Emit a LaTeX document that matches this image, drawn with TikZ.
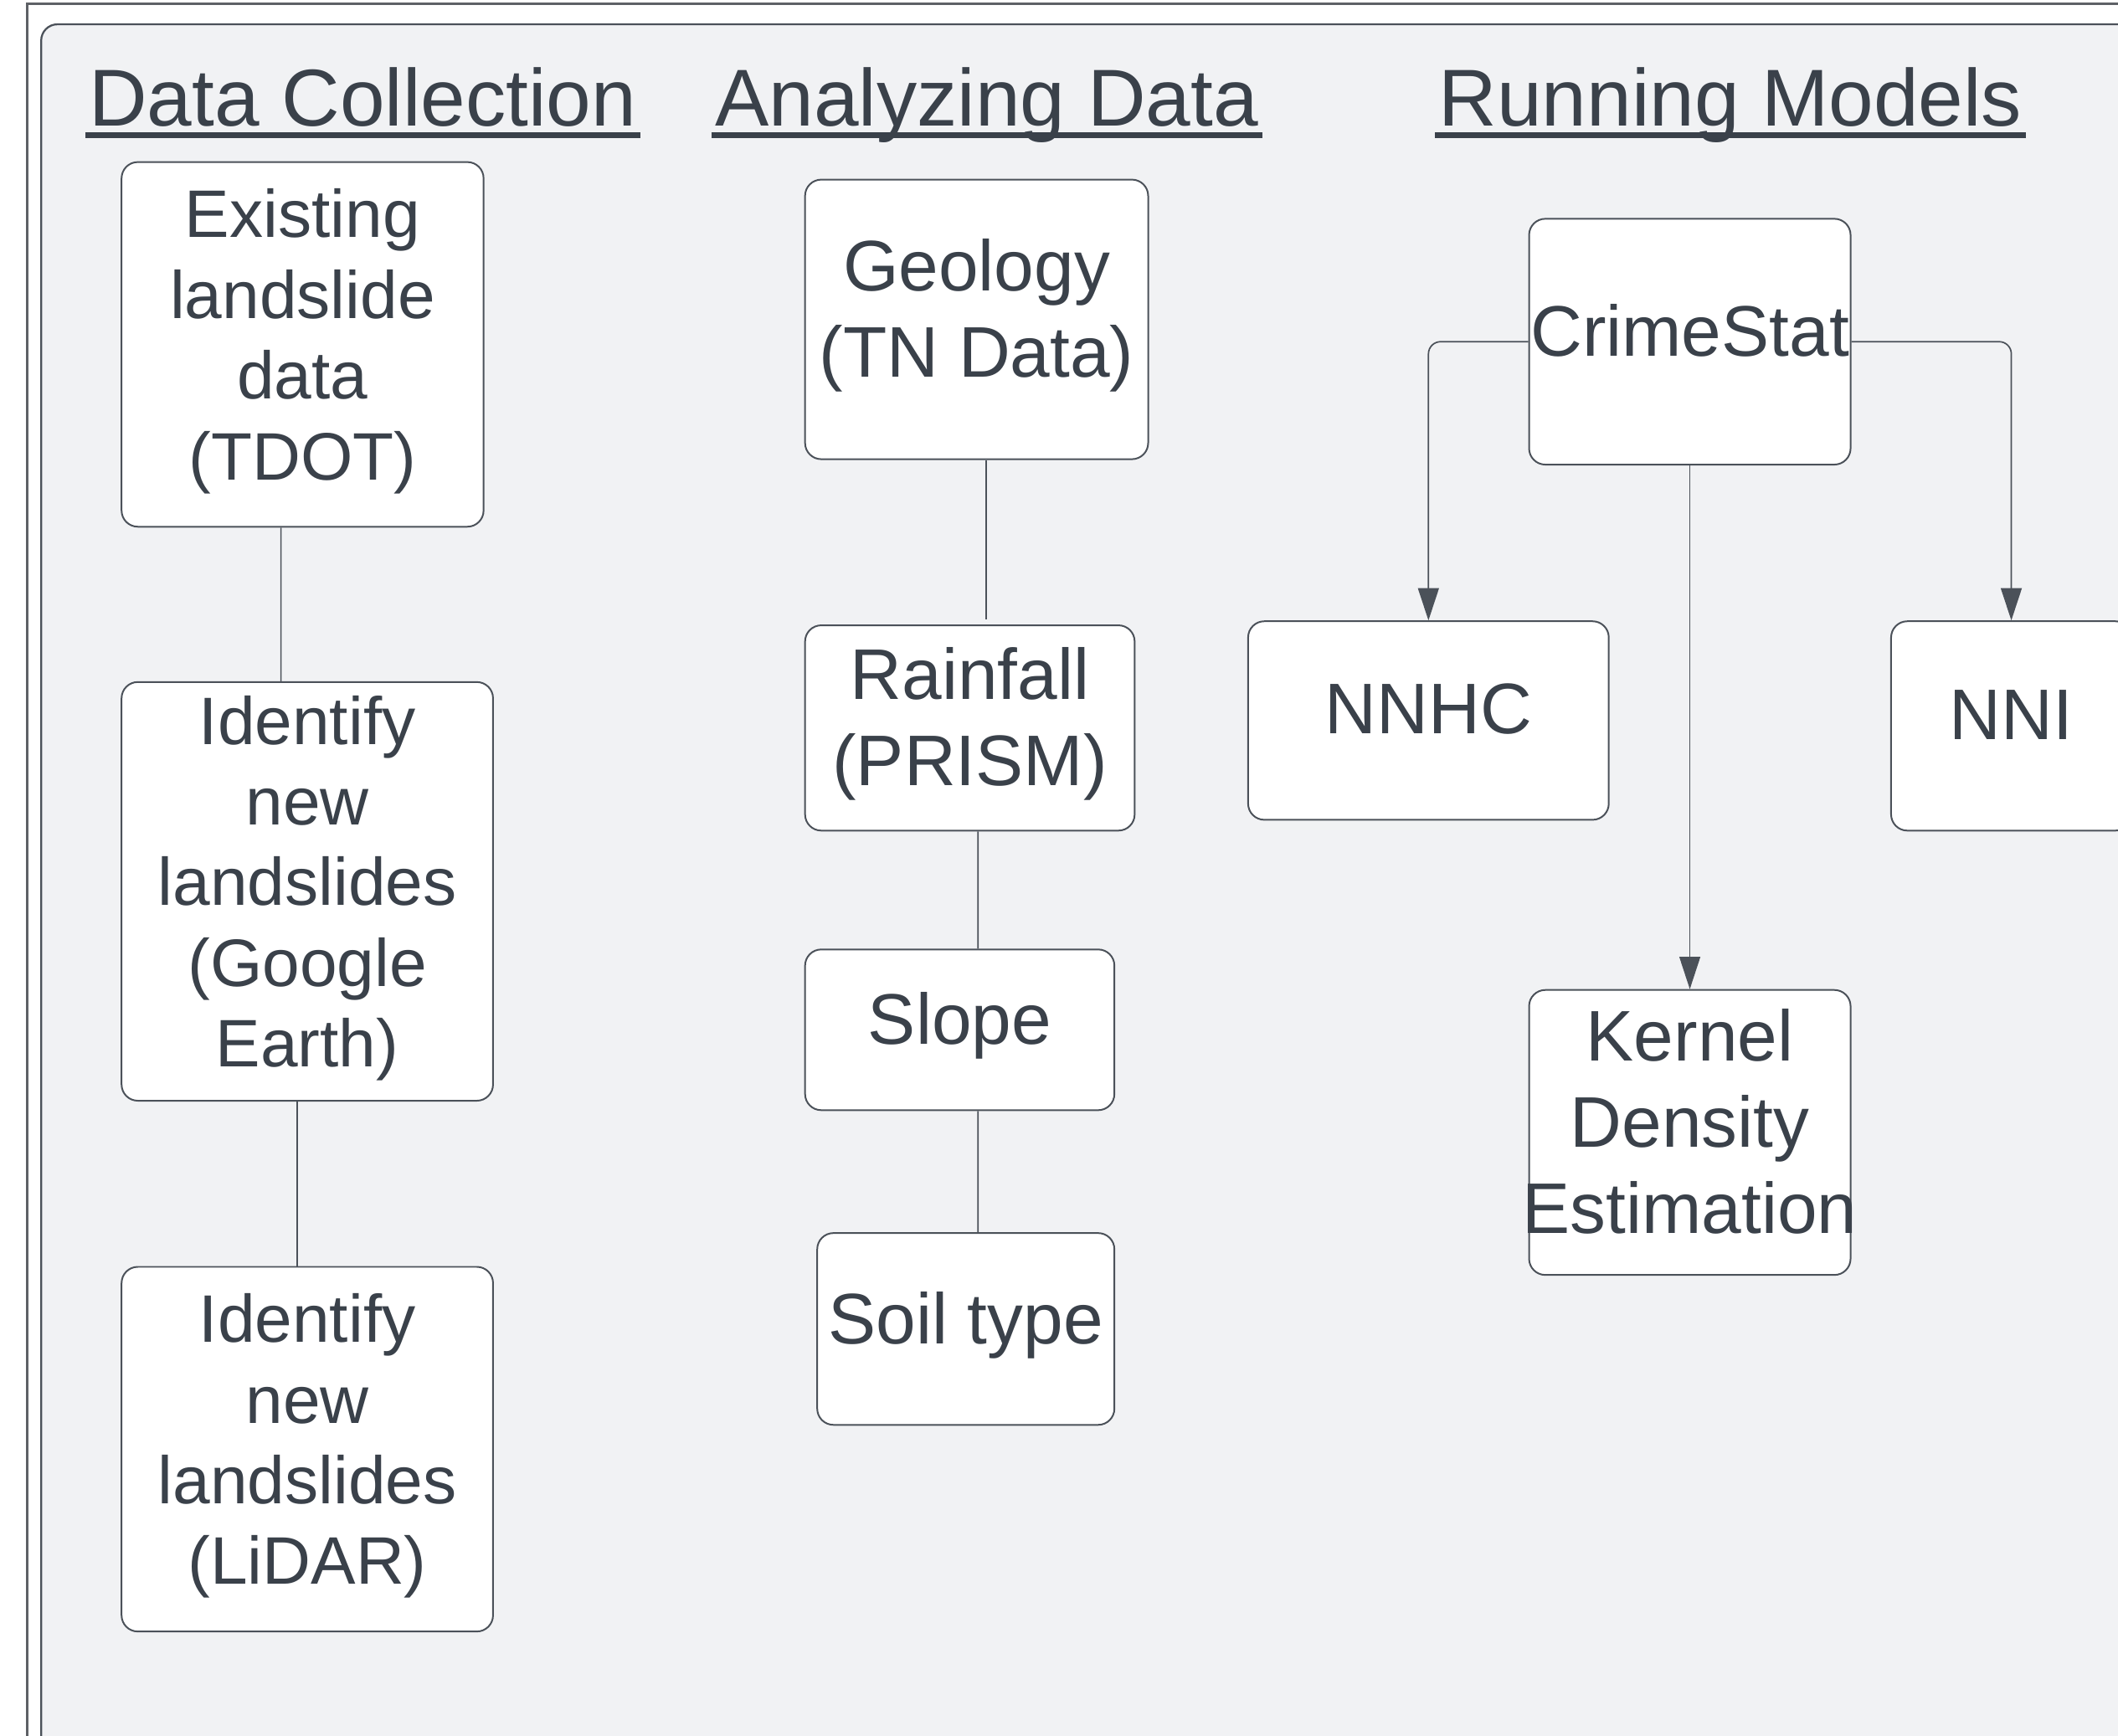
\documentclass[tikz,border=0pt]{standalone}
\usepackage{fontspec}
\setmainfont{Liberation Sans}
\usetikzlibrary{arrows.meta,calc}

\definecolor{inkgray}{HTML}{3A414A}
\definecolor{edgegray}{HTML}{4B5159}
\definecolor{framegray}{HTML}{5E6166}
\definecolor{panelgray}{HTML}{F1F2F4}

\begin{document}
\begin{tikzpicture}[
  box/.style={draw=edgegray,fill=white,line width=0.7pt,rounded corners=0.24cm,
    text=inkgray,align=center,inner sep=0pt,text depth=0.30cm,
    font=\fontsize{28.3}{34}\selectfont},
  bigbox/.style={box,text depth=0.34cm,font=\fontsize{30.2}{36.4}\selectfont},
  heading/.style={text=inkgray,anchor=base,inner sep=0pt,font=\fontsize{34}{40}\selectfont},
  link/.style={draw=edgegray,line width=0.6pt},
  flow/.style={draw=edgegray,line width=0.6pt,rounded corners=0.18cm,
    -{Triangle[length=0.48cm,width=0.31cm]}}
]
\useasboundingbox (0,0) rectangle (31.36,-25.70);
\clip (0,0) rectangle (31.36,-25.70);

% frame and panel
\draw[framegray,line width=1pt] (0.40,-0.06) rectangle (33,-27);
\draw[edgegray,fill=panelgray,line width=0.8pt,rounded corners=0.24cm] (0.61,-0.36) rectangle (33,-27);

% column headings
\path (5.37,-1.87)  node[heading] (H1) {Data Collection};
\path (14.61,-1.87) node[heading] (H2) {Analyzing Data};
\path (25.62,-1.87) node[heading] (H3) {Running Models};
\foreach \h in {H1,H2,H3}
  \draw[inkgray,line width=2.3pt] ([xshift=-0.05cm,yshift=-0.13cm]\h.base west) -- ([xshift=0.05cm,yshift=-0.13cm]\h.base east);

% data collection
\path (4.48,-5.10)  node[box,minimum width=5.36cm,minimum height=5.40cm] (B1) {Existing\\landslide\\data\\(TDOT)};
\path (4.55,-13.20) node[box,minimum width=5.50cm,minimum height=6.20cm] (B2) {Identify\\new\\landslides\\(Google\\Earth)};
\path (4.55,-21.46) node[box,minimum width=5.50cm,minimum height=5.40cm] (B3) {Identify\\new\\landslides\\(LiDAR)};

\draw[link] ([xshift=-0.32cm]B1.south) to ([xshift=-0.39cm]B2.north);
\draw[link] ([xshift=-0.15cm]B2.south) to ([xshift=-0.15cm]B3.north);

% analyzing data
\path (14.46,-4.73)  node[bigbox,minimum width=5.08cm,minimum height=4.14cm] (G) {Geology\\(TN Data)};
\path (14.36,-10.78) node[bigbox,minimum width=4.88cm,minimum height=3.04cm] (R) {Rainfall\\(PRISM)};
\path (14.21,-15.25) node[bigbox,minimum width=4.58cm,minimum height=2.38cm] (S) {Slope};
\path (14.30,-19.68) node[bigbox,minimum width=4.40cm,minimum height=2.84cm] (T) {Soil type};

\draw[link,shorten >=0.08cm] ([xshift=0.14cm]G.south) to ([xshift=0.24cm]R.north);
\draw[link] ([xshift=0.12cm]R.south) to ([xshift=0.27cm]S.north);
\draw[link] ([xshift=0.27cm]S.south) to ([xshift=0.18cm]T.north);

% running models
\path (25.02,-5.06)  node[bigbox,minimum width=4.76cm,minimum height=3.64cm] (C) {CrimeStat};
\path (21.15,-10.67) node[bigbox,minimum width=5.34cm,minimum height=2.94cm] (N1) {NNHC};
\path (29.78,-10.75) node[bigbox,minimum width=3.56cm,minimum height=3.10cm] (N2) {NNI};
\path (25.02,-16.77) node[bigbox,minimum width=4.76cm,minimum height=4.22cm] (K) {Kernel\\Density\\\makebox[4.5cm]{Estimation}};

\draw[flow] (C.west) -| (N1.north);
\draw[flow] (C.east) -| (N2.north);
\draw[flow,line width=0.45pt] (C.south) to (K.north);
\end{tikzpicture}
\end{document}
